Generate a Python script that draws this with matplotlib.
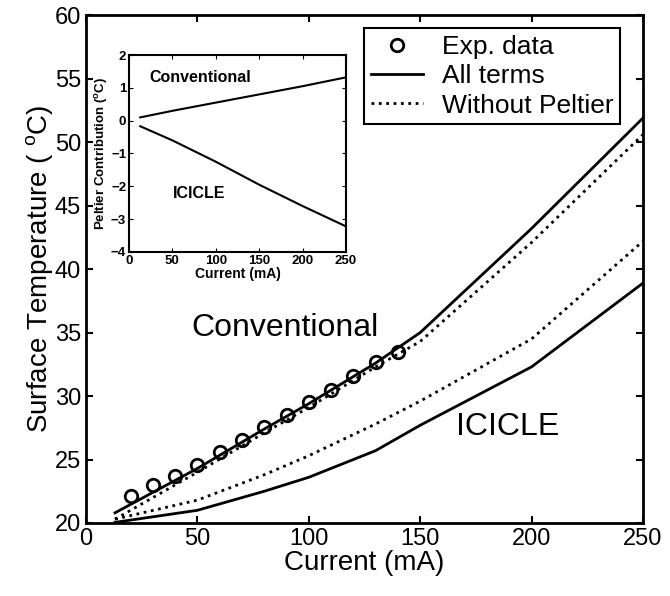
import matplotlib
matplotlib.use("Agg")
import matplotlib.pyplot as plt

plt.rcParams['font.family'] = ['Liberation Sans', 'DejaVu Sans']
plt.rcParams['mathtext.default'] = 'regular'

# measured surface temperature (conventional device)
exp_current = [20, 30, 40, 50, 60, 70, 80, 90, 100, 110, 120, 130, 140]
exp_temp = [22.1, 23.0, 23.7, 24.6, 25.6, 26.5, 27.6, 28.5, 29.5, 30.5, 31.6, 32.7, 33.5]

# model curves
model_current = [13, 50, 80, 100, 130, 150, 200, 250]
conv_all = [20.8, 24.3, 27.4, 29.4, 32.6, 35.0, 43.2, 51.9]
conv_nopelt = [20.3, 24.0, 27.1, 29.1, 32.3, 34.3, 42.1, 50.6]
icicle_all = [20.05, 21.0, 22.5, 23.6, 25.7, 27.7, 32.3, 38.9]
icicle_nopelt = [20.3, 21.8, 23.8, 25.3, 27.8, 29.6, 34.5, 42.2]

# inset: peltier contribution
inset_current = [13, 50, 100, 150, 200, 250]
pelt_conv = [0.1, 0.3, 0.55, 0.8, 1.05, 1.32]
pelt_icicle = [-0.17, -0.6, -1.25, -1.95, -2.6, -3.22]

fig = plt.figure(figsize=(6.70, 5.96), dpi=100)
ax = fig.add_axes([0.1284, 0.1225, 0.8313, 0.852])

ax.plot(exp_current, exp_temp, 'o', mfc='none', mec='black', ms=9, mew=2, label='Exp. data')
ax.plot(model_current, conv_all, '-', color='black', lw=2, label='All terms')
ax.plot(model_current, conv_nopelt, ':', color='black', lw=2, label='Without Peltier')
ax.plot(model_current, icicle_all, '-', color='black', lw=2)
ax.plot(model_current, icicle_nopelt, ':', color='black', lw=2)

ax.set_xlim(0, 250)
ax.set_ylim(20, 60)
ax.set_xticks([0, 50, 100, 150, 200, 250])
ax.set_yticks([20, 25, 30, 35, 40, 45, 50, 55, 60])
ax.tick_params(direction='in', top=True, right=True, labelsize=17, length=5, width=1.5)
for s in ax.spines.values():
    s.set_linewidth(2)
ax.set_xlabel('Current (mA)', fontsize=20, labelpad=0)
ax.set_ylabel('Surface Temperature ( $^{o}$C)', fontsize=20, labelpad=0)

ax.text(89.3, 35.35, 'Conventional', fontsize=23, ha='center', va='center')
ax.text(189.4, 27.6, 'ICICLE', fontsize=23, ha='center', va='center')

leg = ax.legend(loc='upper right', bbox_to_anchor=(0.9587, 0.974), fontsize=19,
                frameon=True, fancybox=False, edgecolor='black', framealpha=1,
                handlelength=2.0, borderpad=0.25, labelspacing=0.2, handletextpad=0.7,
                borderaxespad=0)
leg.get_frame().set_linewidth(1.5)

ins = fig.add_axes([0.1925, 0.5772, 0.3239, 0.3305])
ins.plot(inset_current, pelt_conv, '-', color='black', lw=1.5)
ins.plot(inset_current, pelt_icicle, '-', color='black', lw=1.5)
ins.set_xlim(0, 250)
ins.set_ylim(-4, 2)
ins.set_xticks([0, 50, 100, 150, 200, 250])
ins.set_yticks([-4, -3, -2, -1, 0, 1, 2])
ins.tick_params(direction='in', top=True, right=True, labelsize=9.5, length=3, pad=2)
for lab in ins.get_xticklabels() + ins.get_yticklabels():
    lab.set_fontweight('bold')
for s in ins.spines.values():
    s.set_linewidth(1.5)
ins.set_xlabel('Current (mA)', fontsize=10, fontweight='bold', labelpad=0)
ins.set_ylabel('Peltier Contribution ($^{o}$C)', fontsize=9.5, fontweight='bold', labelpad=1)
ins.text(24, 1.3, 'Conventional', fontsize=11.5, fontweight='bold', va='center')
ins.text(51, -2.22, 'ICICLE', fontsize=11.5, fontweight='bold', va='center')

fig.savefig('out.png', dpi=100)
